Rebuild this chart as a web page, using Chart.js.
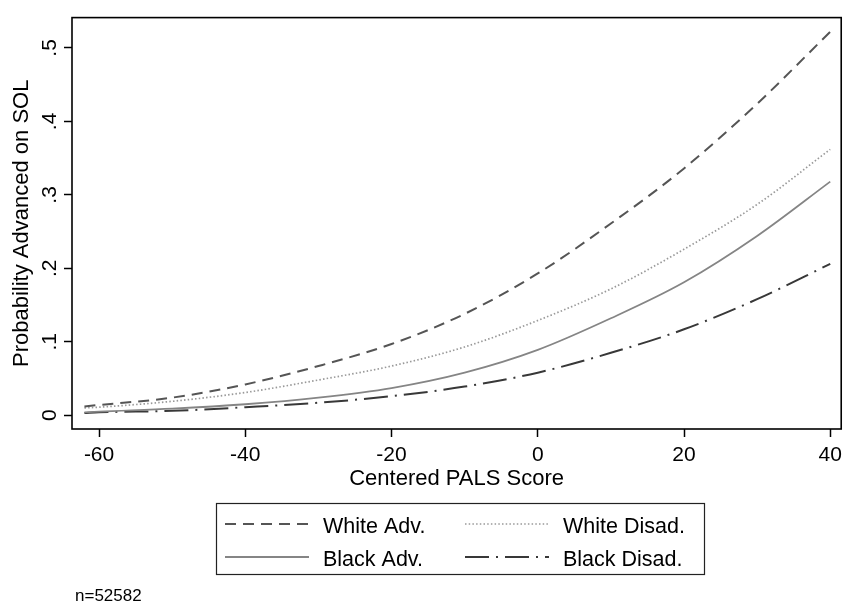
<!DOCTYPE html>
<html>
<head>
<meta charset="utf-8">
<script src="https://cdn.jsdelivr.net/npm/chart.js@4.4.0/dist/chart.umd.min.js"></script>
<style>
  html, body { margin: 0; padding: 0; background: #fff; }
</style>
</head>
<body>
<canvas id="plot" width="848" height="607"></canvas>
<script>
// values
const scores = [-62, -60, -50, -40, -30, -20, -10, 0, 10, 20, 30, 40];
const whiteAdv   = [0.012, 0.014, 0.024, 0.042, 0.067, 0.097, 0.138, 0.193, 0.261, 0.336, 0.424, 0.522];
const whiteDisad = [0.010, 0.011, 0.019, 0.031, 0.048, 0.067, 0.093, 0.129, 0.172, 0.226, 0.287, 0.362];
const blackAdv   = [0.004, 0.005, 0.009, 0.015, 0.024, 0.037, 0.058, 0.089, 0.132, 0.181, 0.244, 0.318];
const blackDisad = [0.003, 0.004, 0.006, 0.011, 0.017, 0.026, 0.039, 0.058, 0.085, 0.117, 0.158, 0.206];

const seriesNames = ['White Adv.', 'White Disad.', 'Black Adv.', 'Black Disad.'];
const xTicks = [-60, -40, -20, 0, 20, 40];
const yTicks = [0, 0.1, 0.2, 0.3, 0.4, 0.5];
const yTickLabels = ['0', '.1', '.2', '.3', '.4', '.5'];
const xTitle = 'Centered PALS Score';
const yTitle = 'Probability Advanced on SOL';
const note = 'n=52582';

const FONT = "'Liberation Sans', Arial, Helvetica, sans-serif";
Chart.defaults.font.family = FONT;
Chart.defaults.color = '#000';

const pts = (vals) => scores.map((s, i) => ({ x: s, y: vals[i] }));

function line(label, vals, color, width, dash) {
    return {
        label: label,
        data: pts(vals),
        borderColor: color,
        borderWidth: width,
        borderDash: dash,
        pointRadius: 0,
        fill: false,
        cubicInterpolationMode: 'monotone'
    };
}

// frame round the plot, legend box and note
const decor = {
    id: 'decor',
    afterDatasetsDraw(chart) {
        const ctx = chart.ctx;
        const a = chart.chartArea;
        ctx.save();
        ctx.strokeStyle = '#000';
        ctx.lineWidth = 1.6;
        ctx.setLineDash([]);
        ctx.strokeRect(a.left, a.top, a.right - a.left, a.bottom - a.top);

        // legend
        ctx.lineWidth = 1.2;
        ctx.strokeStyle = '#222';
        ctx.strokeRect(216.5, 503.5, 488, 71);
        const colLine = [225, 465];
        const colText = [323, 563];
        const rowY = [524, 557];
        ctx.font = '21.5px ' + FONT;
        ctx.textBaseline = 'middle';
        ctx.textAlign = 'left';
        chart.data.datasets.forEach((ds, i) => {
            const c = i % 2, r = Math.floor(i / 2);
            ctx.beginPath();
            ctx.strokeStyle = ds.borderColor;
            ctx.lineWidth = ds.borderWidth;
            ctx.setLineDash(ds.borderDash);
            ctx.moveTo(colLine[c], rowY[r]);
            ctx.lineTo(colLine[c] + 84, rowY[r]);
            ctx.stroke();
            ctx.setLineDash([]);
            ctx.fillStyle = '#000';
            ctx.fillText(ds.label, colText[c], rowY[r] + 3);
        });

        ctx.font = '17px ' + FONT;
        ctx.fillText(note, 75, 596);
        ctx.restore();
    }
};

new Chart(document.getElementById('plot'), {
    type: 'line',
    data: {
        datasets: [
            line(seriesNames[0], whiteAdv, '#555555', 2, [11, 7]),
            line(seriesNames[1], whiteDisad, '#999999', 1.7, [1.5, 2.2]),
            line(seriesNames[2], blackAdv, '#858585', 1.8, []),
            line(seriesNames[3], blackDisad, '#383838', 2, [24, 7, 2, 7])
        ]
    },
    options: {
        responsive: false,
        animation: false,
        devicePixelRatio: 1,
        layout: { padding: { top: 9, right: 5, left: 0, bottom: 0 } },
        plugins: {
            legend: { display: false },
            tooltip: { enabled: false }
        },
        scales: {
            x: {
                type: 'linear',
                min: -63.7,
                max: 41.5,
                afterBuildTicks: (s) => { s.ticks = xTicks.map((v) => ({ value: v })); },
                afterFit: (s) => { s.height = 178; },
                grid: { display: true, drawOnChartArea: false, drawTicks: true, tickLength: 8, tickWidth: 1.5, tickColor: '#000' },
                border: { display: false },
                ticks: { font: { size: 21 }, padding: 6, maxRotation: 0, color: '#000' },
                title: { display: true, text: xTitle, font: { size: 22 }, padding: { top: 0, bottom: 115 }, color: '#000' }
            },
            y: {
                type: 'linear',
                min: -0.0187,
                max: 0.5413,
                afterBuildTicks: (s) => { s.ticks = yTicks.map((v) => ({ value: v })); },
                afterFit: (s) => { s.width = 72; },
                grid: { display: true, drawOnChartArea: false, drawTicks: true, tickLength: 8, tickWidth: 1.5, tickColor: '#000' },
                border: { display: false },
                ticks: {
                    font: { size: 21 },
                    padding: 5,
                    minRotation: 90,
                    maxRotation: 90,
                    crossAlign: 'center',
                    color: '#000',
                    callback: (v) => {
                        const k = yTicks.findIndex((t) => Math.abs(t - v) < 1e-9);
                        return k >= 0 ? yTickLabels[k] : '';
                    }
                },
                title: { display: true, text: yTitle, font: { size: 22 }, padding: { top: 9, bottom: 0 }, color: '#000' }
            }
        }
    },
    plugins: [decor]
});
</script>
</body>
</html>
